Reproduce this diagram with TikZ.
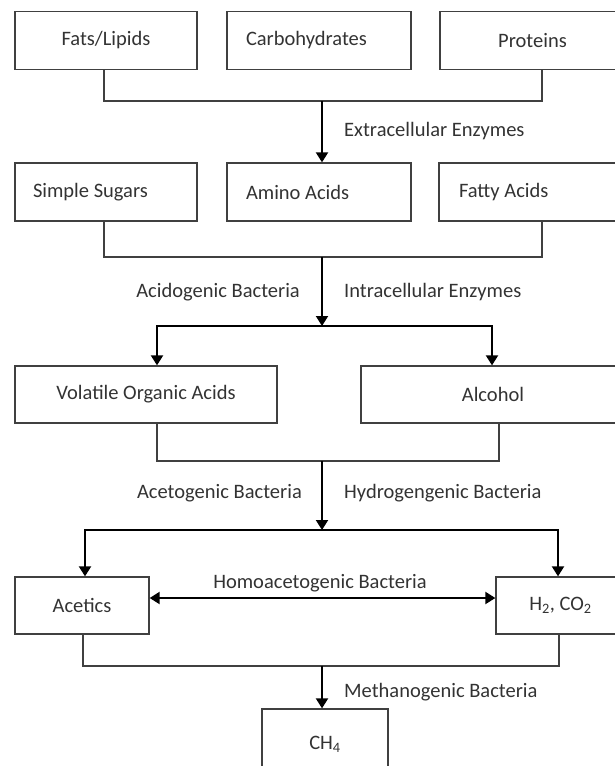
\documentclass[tikz,border=0pt]{standalone}
\usepackage{fontspec}
\setmainfont{Carlito}
\usetikzlibrary{arrows.meta}

\begin{document}
\begin{tikzpicture}
[x=1pt,y=-1pt,font=\fontsize{20.5}{24}\selectfont,
 >={Triangle[width=12pt,length=10pt]},
 box/.style={draw=black!75,line width=1.3pt,minimum height=58pt,text=black!80,inner sep=0pt},
 lbox/.style={box,align=flush left,text width=146pt,inner xsep=18pt},
 lab/.style={text=black!80,inner sep=0pt},
 link/.style={draw=black!75,line width=1.3pt},
 flow/.style={line width=2pt,->}]
\useasboundingbox (0,0) rectangle (615,766);
\node[box,minimum width=182pt] (fats) at (106,40.5) {Fats/Lipids};
\node[lbox,minimum width=184pt] (carb) at (319,40.5) {Carbohydrates};
\node[box,minimum width=185pt] (prot) at (532.5,40.5) {Proteins};
\node[lbox,minimum width=182pt] (sugars) at (106,192) {Simple Sugars};
\node[lbox,minimum width=184pt] (amino) at (319,192) {Amino Acids};
\node[lbox,minimum width=186pt] (fatty) at (532,192) {Fatty Acids};
\node[box,minimum width=262pt,minimum height=57pt] (voa) at (146,394.5) {Volatile Organic Acids};
\node[box,minimum width=264pt,minimum height=57pt] (alc) at (493,394.5) {Alcohol};
\node[box,minimum width=134pt,minimum height=57pt] (acet) at (82,605.5) {Acetics};
\node[box,minimum width=129pt,minimum height=57pt] (gas) at (560.5,605.5) {H\textsubscript{2}, CO\textsubscript{2}};
\node[box,minimum width=126pt,minimum height=71pt] (ch4) at (325,744.5) {CH\textsubscript{4}};
\coordinate (hub1) at (322,101);
\coordinate (hub2) at (322,257);
\coordinate (split2) at (322,326);
\coordinate (hub3) at (322,461);
\coordinate (split3) at (322,530);
\coordinate (hub4) at (322,666);
% hydrolysis
\draw[link] ([xshift=-2pt]fats.south) |- (hub1) -| ([xshift=9.5pt]prot.south);
\draw[flow] (hub1) -- (amino.north -| hub1);
% acidogenesis
\draw[link] ([xshift=-2pt]sugars.south) |- (hub2) -| ([xshift=10pt]fatty.south);
\draw[flow] (hub2) -- (split2);
\draw[flow] (split2) -| ([xshift=11pt]voa.north);
\draw[flow] (split2) -| ([xshift=-1pt]alc.north);
% acetogenesis
\draw[link] ([xshift=11pt]voa.south) |- (hub3) -| ([xshift=6pt]alc.south);
\draw[flow] (hub3) -- (split3);
\draw[flow] (split3) -| ([xshift=3pt]acet.north);
\draw[flow] (split3) -| ([xshift=-2.5pt]gas.north);
\draw[line width=2pt,<->] ([yshift=7.5pt]acet.east) -- ([yshift=7.5pt]gas.west);
% methanogenesis
\draw[link] ([xshift=1pt]acet.south) |- (hub4) -| ([xshift=-1.5pt]gas.south);
\draw[flow] (hub4) -- (ch4.north -| hub4);
\node[lab,anchor=west] (extra) at (344,131) {Extracellular Enzymes};
\node[lab,anchor=east] (acido) at (300,292) {Acidogenic Bacteria};
\node[lab,anchor=west] (intra) at (344,292) {Intracellular Enzymes};
\node[lab,anchor=east] (aceto) at (302,493) {Acetogenic Bacteria};
\node[lab,anchor=west] (hydro) at (344,493) {Hydrogengenic Bacteria};
\node[lab] (homo) at (320,583) {Homoacetogenic Bacteria};
\node[lab,anchor=west] (metha) at (344,692) {Methanogenic Bacteria};
\end{tikzpicture}
\end{document}
